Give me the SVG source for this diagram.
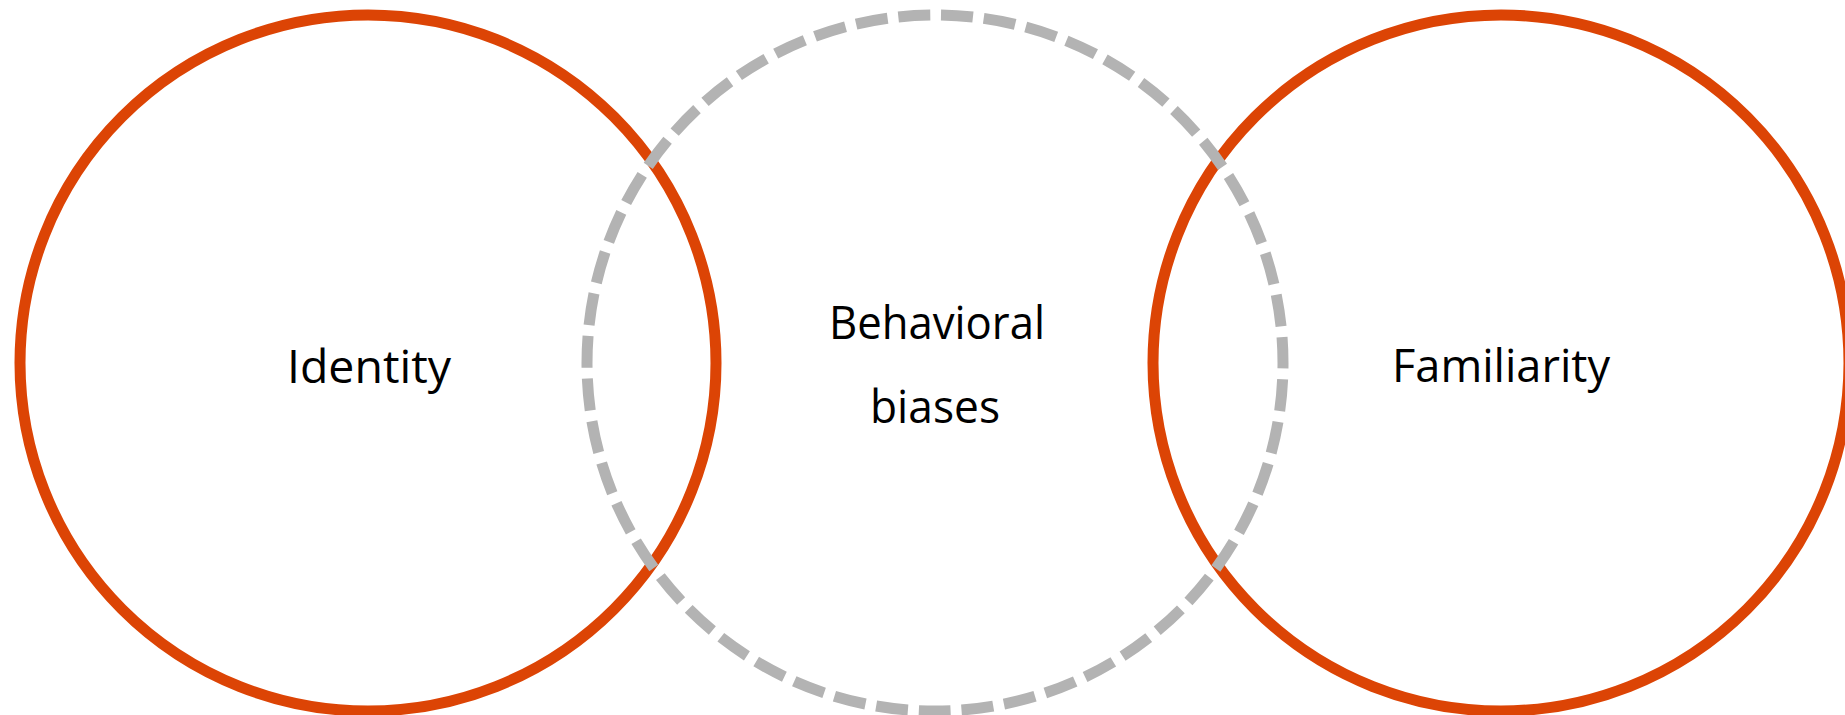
<svg xmlns="http://www.w3.org/2000/svg" width="1845" height="715" viewBox="0 0 1845 715">
  <style>
    .set { fill: none; stroke: #DC4405; stroke-width: 11; }
    .mid { fill: none; stroke: #B3B3B3; stroke-width: 11; stroke-dasharray: 32 10.87; stroke-dashoffset: 26.6; }
    .lbl { font-family: "Open Sans", Lato, "Liberation Sans", sans-serif; font-size: 46px; fill: #000000; text-anchor: middle; font-variant-ligatures: none; }
  </style>
  <rect width="1845" height="715" fill="#FFFFFF"/>
  <g id="identity">
    <circle class="set" cx="368" cy="363" r="348"/>
    <text class="lbl" x="369" y="383" textLength="164" lengthAdjust="spacingAndGlyphs">Identity</text>
  </g>
  <g id="familiarity">
    <circle class="set" cx="1501" cy="363" r="348"/>
    <text class="lbl" x="1501" y="382" textLength="218" lengthAdjust="spacingAndGlyphs">Familiarity</text>
  </g>
  <g id="behavioral-biases">
    <circle class="mid" cx="935" cy="363" r="348"/>
    <text class="lbl" x="937" y="339" textLength="216" lengthAdjust="spacingAndGlyphs">Behavioral</text>
    <text class="lbl" x="935" y="423" textLength="130" lengthAdjust="spacingAndGlyphs">biases</text>
  </g>
  <g id="connectors"></g>
</svg>
